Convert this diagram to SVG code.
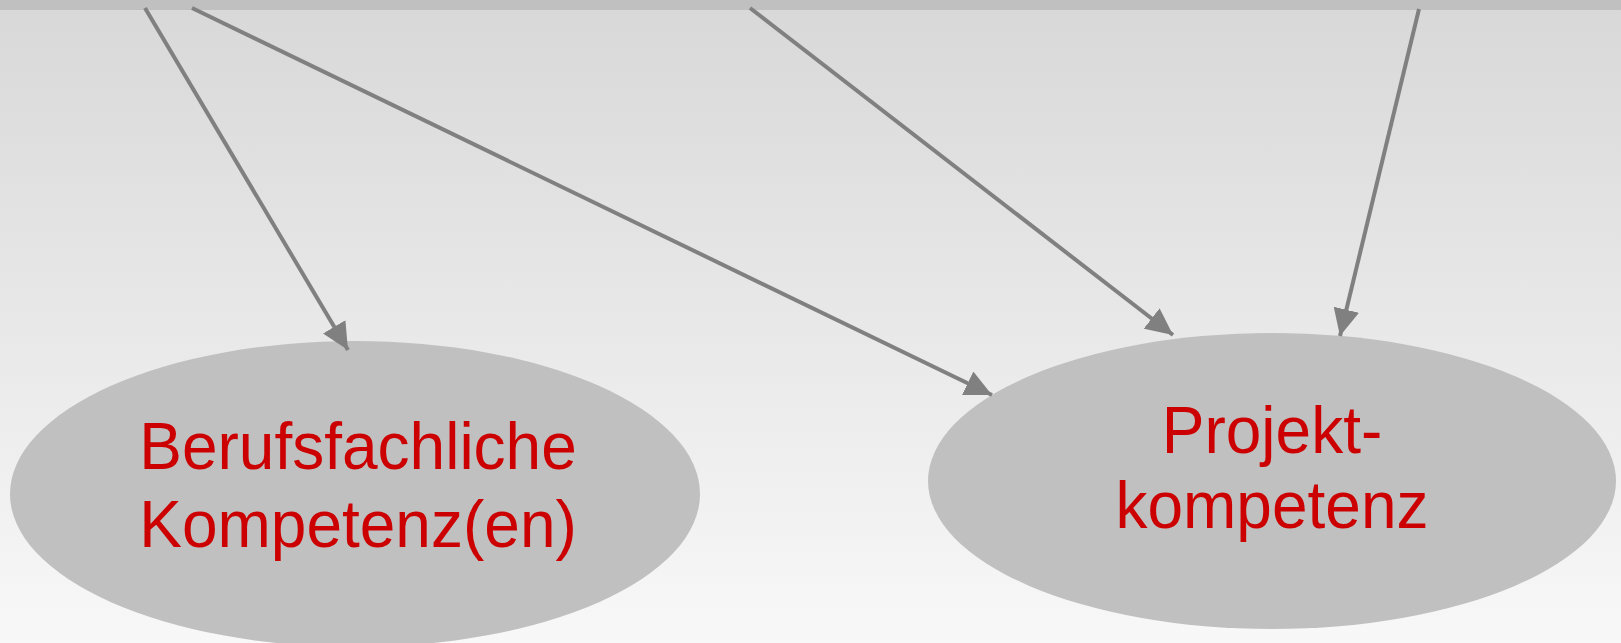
<svg xmlns="http://www.w3.org/2000/svg" width="1621" height="643" viewBox="0 0 1621 643">
<style>
.node ellipse{fill:#c0c0c0;stroke:none}
.label{font-family:"Liberation Sans",Arial,sans-serif;font-size:66px;fill:#cc0000;text-anchor:middle}
.edge{stroke:#808080;stroke-width:4;fill:none;marker-end:url(#arr)}
</style>
<defs>
<linearGradient id="bg" x1="0" y1="0" x2="0" y2="1">
<stop offset="0" stop-color="#d8d8d8"/>
<stop offset="1" stop-color="#f8f8f8"/>
</linearGradient>
<marker id="arr" markerUnits="userSpaceOnUse" markerWidth="28" markerHeight="26" refX="27" refY="13" orient="auto">
<path d="M0,0 L27,13 L0,26 z" fill="#808080"/>
</marker>
</defs>
<rect x="0" y="0" width="1621" height="643" fill="url(#bg)"/>
<rect x="0" y="0" width="1621" height="10" fill="#c0c0c0"/>
<g id="n1" class="node">
<ellipse cx="355" cy="494" rx="345" ry="153"/>
<text class="label" transform="matrix(0.97 0 0 1 358 0)" x="0" y="469">Berufsfachliche</text>
<text class="label" transform="matrix(0.97 0 0 1 358 0)" x="0" y="547">Kompetenz(en)</text>
</g>
<g id="n2" class="node">
<ellipse cx="1272" cy="481" rx="344" ry="148"/>
<text class="label" transform="matrix(0.97 0 0 1 1272 0)" x="0" y="453">Projekt-</text>
<text class="label" transform="matrix(0.97 0 0 1 1272 0)" x="0" y="528">kompetenz</text>
</g>
<g id="edges">
<line class="edge" x1="145" y1="8" x2="348" y2="350"/>
<line class="edge" x1="192" y1="8" x2="992" y2="395"/>
<line class="edge" x1="750" y1="8" x2="1173" y2="335"/>
<line class="edge" x1="1419" y1="9" x2="1340" y2="336"/>
</g>
</svg>
